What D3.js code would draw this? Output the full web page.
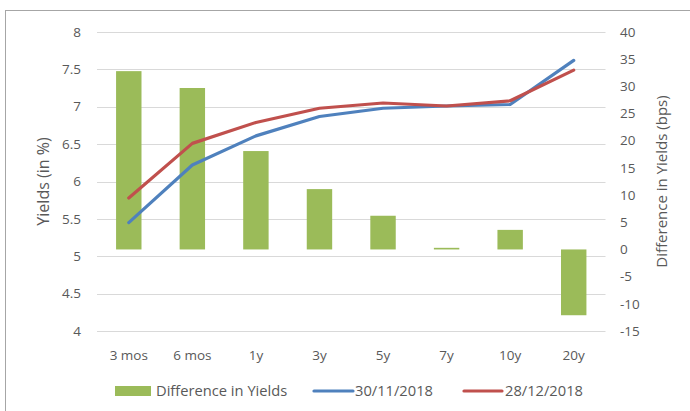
<!DOCTYPE html>
<html>
<head>
<meta charset="utf-8">
<script src="https://cdn.jsdelivr.net/npm/d3@7"></script>
<style>
  body { margin: 0; background: #fff; }
  text { font-family: "Open Sans", "Liberation Sans", sans-serif; fill: #595959; }
</style>
</head>
<body>
<div id="chart"></div>
<script>
const categories = ["3 mos", "6 mos", "1y", "3y", "5y", "7y", "10y", "20y"];
const diffBps = [32.8, 29.7, 18.1, 11.1, 6.2, 0.3, 3.6, -12.1];
const yieldsNov = [5.45, 6.22, 6.61, 6.87, 6.98, 7.01, 7.03, 7.62];
const yieldsDec = [5.78, 6.51, 6.79, 6.98, 7.05, 7.01, 7.08, 7.49];
const leftTicks = [4, 4.5, 5, 5.5, 6, 6.5, 7, 7.5, 8];
const rightTicks = [-15, -10, -5, 0, 5, 10, 15, 20, 25, 30, 35, 40];

const fullwidth = 690, fullheight = 411;
const plotLeft = 97, plotRight = 605.5, plotTop = 32, plotBottom = 331;

const svg = d3.select("#chart").append("svg")
  .attr("width", fullwidth)
  .attr("height", fullheight);

// outer chart border
svg.append("rect")
  .attr("x", 5.5).attr("y", 10.5)
  .attr("width", 700).attr("height", 420)
  .attr("fill", "none").attr("stroke", "#a6a6a6").attr("stroke-width", 1);

var x = d3.scaleBand().domain(categories).range([plotLeft, plotRight]).paddingInner(0.6).paddingOuter(0.3);
var xPoint = d3.scalePoint().domain(categories).range([plotLeft, plotRight]).padding(0.5);
var yLeft = d3.scaleLinear().domain([4, 8]).range([plotBottom, plotTop]);
var yRight = d3.scaleLinear().domain([-15, 40]).range([plotBottom, plotTop]);

// gridlines
svg.append("g").selectAll("line")
  .data(leftTicks).enter().append("line")
  .attr("x1", plotLeft).attr("x2", plotRight)
  .attr("y1", d => Math.round(yLeft(d)) + 0.5)
  .attr("y2", d => Math.round(yLeft(d)) + 0.5)
  .attr("stroke", "#d9d9d9").attr("stroke-width", 1);

// left axis labels
svg.append("g").selectAll("text")
  .data(leftTicks).enter().append("text")
  .attr("x", 81).attr("y", d => yLeft(d))
  .attr("dy", "0.35em").attr("text-anchor", "end")
  .style("font-size", "13.5px")
  .text(d => d);

// right axis labels
svg.append("g").selectAll("text")
  .data(rightTicks).enter().append("text")
  .attr("x", 620).attr("y", d => yRight(d))
  .attr("dy", "0.35em").attr("text-anchor", "start")
  .style("font-size", "13.5px")
  .text(d => d);

// bars
svg.append("g").selectAll("rect")
  .data(diffBps).enter().append("rect")
  .attr("x", (d, i) => x(categories[i]))
  .attr("width", x.bandwidth())
  .attr("y", d => yRight(Math.max(0, d)))
  .attr("height", d => Math.max(1, Math.abs(yRight(d) - yRight(0))))
  .attr("fill", "#9bbb59");

// lines
var line = d3.line().x((d, i) => xPoint(categories[i])).y(d => yLeft(d));
svg.append("path").datum(yieldsNov)
  .attr("d", line).attr("fill", "none")
  .attr("stroke", "#4f81bd").attr("stroke-width", 3.2)
  .attr("stroke-linecap", "round").attr("stroke-linejoin", "round");
svg.append("path").datum(yieldsDec)
  .attr("d", line).attr("fill", "none")
  .attr("stroke", "#c0504d").attr("stroke-width", 3.2)
  .attr("stroke-linecap", "round").attr("stroke-linejoin", "round");

// x labels
svg.append("g").selectAll("text")
  .data(categories).enter().append("text")
  .attr("x", d => xPoint(d)).attr("y", 355)
  .attr("dy", "0.35em").attr("text-anchor", "middle")
  .style("font-size", "13.5px")
  .text(d => d);

// axis titles
svg.append("text")
  .attr("transform", "translate(43," + ((plotTop + plotBottom) / 2) + ") rotate(-90)")
  .attr("text-anchor", "middle").attr("dy", "0.35em")
  .style("font-size", "16px")
  .text("Yields (in %)");
svg.append("text")
  .attr("transform", "translate(662," + ((plotTop + plotBottom) / 2) + ") rotate(-90)")
  .attr("text-anchor", "middle").attr("dy", "0.35em")
  .style("font-size", "15px")
  .text("Difference in Yields (bps)");

// legend
var legend = svg.append("g").attr("class", "legend");
legend.append("rect").attr("x", 115).attr("y", 386).attr("width", 36).attr("height", 10).attr("fill", "#9bbb59");
legend.append("text").attr("x", 156).attr("y", 391).attr("dy", "0.35em").style("font-size", "14.7px").text("Difference in Yields");
legend.append("line").attr("x1", 314).attr("x2", 353).attr("y1", 391).attr("y2", 391)
  .attr("stroke", "#4f81bd").attr("stroke-width", 3.2).attr("stroke-linecap", "round");
legend.append("text").attr("x", 355).attr("y", 391).attr("dy", "0.35em").style("font-size", "14.7px").text("30/11/2018");
legend.append("line").attr("x1", 464).attr("x2", 502).attr("y1", 391).attr("y2", 391)
  .attr("stroke", "#c0504d").attr("stroke-width", 3.2).attr("stroke-linecap", "round");
legend.append("text").attr("x", 505).attr("y", 391).attr("dy", "0.35em").style("font-size", "14.7px").text("28/12/2018");
</script>
</body>
</html>
